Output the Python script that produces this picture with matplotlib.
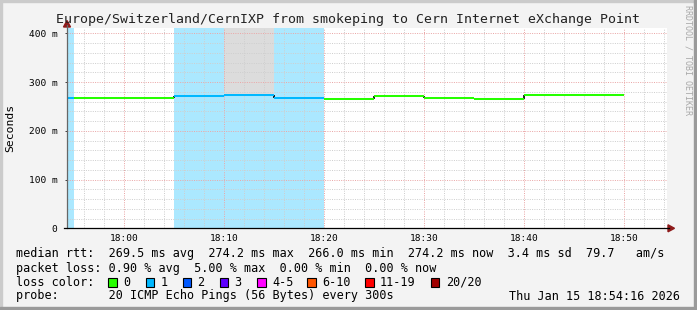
import matplotlib
matplotlib.use('Agg')
import matplotlib.pyplot as plt
from matplotlib.patches import Rectangle, Polygon
from matplotlib.lines import Line2D
from matplotlib.colors import to_rgb

W, H = 697, 310
MONO = 'DejaVu Sans Mono'

# 5 minute bins, start time in minutes relative to 18:00
bin_start = [-10, -5, 0, 5, 10, 15, 20, 25, 30, 35, 40, 45]
median_rtt = [268.0, 266.5, 266.5, 272.0, 274.0, 268.0, 266.0, 272.0, 268.0, 266.0, 274.2, 274.2]
lost_pings = [1, 0, 0, 1, 1, 1, 0, 0, 0, 0, 0, 0]
smoke_top = [268.0, 266.5, 266.5, 272.0, 450.0, 268.0, 266.0, 272.0, 268.0, 266.0, 274.2, 274.2]

# graph window 17:54:16 .. 18:54:16
t_start = -5 - 44 / 60
t_end = 54 + 16 / 60

xtick_pos = [0, 10, 20, 30, 40, 50]
xtick_lab = ['18:00', '18:10', '18:20', '18:30', '18:40', '18:50']
ytick_pos = [0, 100, 200, 300, 400]
ytick_lab = ['0', '100 m', '200 m', '300 m', '400 m']

loss_labels = ['0', '1', '2', '3', '4-5', '6-10', '11-19', '20/20']
loss_colors = ['#26ff00', '#00b8ff', '#0059ff', '#5e00ff', '#ff00ff', '#ff5500', '#ff0000', '#a10000']
loss_limits = [0, 1, 2, 3, 5, 10, 19, 20]

title = 'Europe/Switzerland/CernIXP from smokeping to Cern Internet eXchange Point'
legend_lines = [
    'median rtt:  269.5 ms avg  274.2 ms max  266.0 ms min  274.2 ms now  3.4 ms sd  79.7   am/s',
    'packet loss: 0.90 % avg  5.00 % max  0.00 % min  0.00 % now',
    'loss color:',
    'probe:       20 ICMP Echo Pings (56 Bytes) every 300s',
]
stamp = 'Thu Jan 15 18:54:16 2026'


def fx(px):
    return px / W


def fy(py):
    return 1 - py / H


def loss_idx(n):
    for i, lim in enumerate(loss_limits):
        if n <= lim:
            return i
    return len(loss_limits) - 1


def lighten(c, a=0.33):
    r, g, b = to_rgb(c)
    return (1 - a + a * r, 1 - a + a * g, 1 - a + a * b)


fig = plt.figure(figsize=(W / 100, H / 100), dpi=100, facecolor='#f3f3f3')

# 3d-ish frame
fig.patches.append(Rectangle((0, fy(2)), 1, 2 / H, transform=fig.transFigure, color='#cbcbcb'))
fig.patches.append(Rectangle((0, 0), 2 / W, 1, transform=fig.transFigure, color='#cbcbcb'))
fig.patches.append(Rectangle((fx(694), 0), 3 / W, 1, transform=fig.transFigure, color='#9a9a9a'))
fig.patches.append(Rectangle((0, 0), 1, 3 / H, transform=fig.transFigure, color='#9a9a9a'))

ax = fig.add_axes([fx(67), fy(228.3), 600 / W, 200 / H])
ax.set_facecolor('white')
ax.set_xlim(t_start, t_end)
ax.set_ylim(0, 410.26)
for s in ax.spines.values():
    s.set_visible(False)

# loss background + smoke
for i, b0 in enumerate(bin_start):
    x0, x1 = max(b0, t_start), min(b0 + 5, t_end)
    if x1 <= x0:
        continue
    if lost_pings[i] > 0:
        ax.axvspan(x0, x1, color=lighten(loss_colors[loss_idx(lost_pings[i])]), lw=0, zorder=1)
    if smoke_top[i] > median_rtt[i]:
        ax.fill_between([x0, x1], [median_rtt[i]] * 2, [smoke_top[i]] * 2, color='#dcdcdc', lw=0, zorder=2)

# grid
dot = (0, (1, 1.3))
for m in range(-4, 55, 2):
    major = m % 10 == 0
    ax.axvline(m, color='#eaa8a8' if major else '#cfcfcf', lw=0.72, ls=dot, zorder=3)
for v in range(20, 411, 20):
    major = v % 100 == 0
    ax.axhline(v, color='#eaa8a8' if major else '#cfcfcf', lw=0.72, ls=dot, zorder=3)

# median line coloured by loss
prev = None
for i, b0 in enumerate(bin_start):
    x0, x1 = max(b0, t_start), min(b0 + 5, t_end)
    if x1 <= x0:
        continue
    if prev is not None and prev != median_rtt[i]:
        ax.plot([x0, x0], [prev, median_rtt[i]], color='black', lw=1.2, zorder=4,
                solid_capstyle='butt')
    ax.plot([x0, x1], [median_rtt[i]] * 2, color=loss_colors[loss_idx(lost_pings[i])],
            lw=1.45, zorder=5, solid_capstyle='butt')
    prev = median_rtt[i]

ax.set_xticks(xtick_pos)
ax.set_xticklabels(xtick_lab, family=MONO, fontsize=6.8)
ax.set_yticks(ytick_pos)
ax.set_yticklabels(ytick_lab, family=MONO, fontsize=6.8)
ax.tick_params(axis='x', length=0, pad=4)
ax.tick_params(axis='y', length=1.5, width=0.72, pad=5.5, color='#444444')

# axes with arrows
fig.add_artist(Line2D([fx(67), fx(67)], [fy(228.3), fy(25)], color='#666666', lw=0.9))
fig.add_artist(Line2D([fx(64), fx(669)], [fy(228.3), fy(228.3)], color='black', lw=0.9))
fig.patches.append(Polygon([(fx(63.5), fy(27)), (fx(70.5), fy(27)), (fx(67), fy(20.5))],
                           closed=True, transform=fig.transFigure, color='#8e1a1a'))
fig.patches.append(Polygon([(fx(668), fy(224.8)), (fx(668), fy(231.8)), (fx(674.5), fy(228.3))],
                           closed=True, transform=fig.transFigure, color='#8e1a1a'))

fig.text(fx(348), fy(19), title, family=MONO, fontsize=9.5, ha='center', va='center', color='#222222')
fig.text(fx(10), fy(128), 'Seconds', family=MONO, fontsize=8.2, rotation=90, ha='center', va='center')
fig.text(fx(688), fy(60), 'RRDTOOL / TOBI OETIKER', family=MONO, fontsize=6, rotation=270,
         ha='center', va='center', color='#a8a8a8')

line_y = [254, 268.3, 282, 296]
for s, y in zip(legend_lines, line_y):
    fig.text(fx(16), fy(y), s, family=MONO, fontsize=8.45, ha='left', va='center', color='black')
fig.text(fx(680), fy(296), stamp, family=MONO, fontsize=8.45, ha='right', va='center', color='black')

box_x = [108, 145.7, 182.7, 220, 257, 307, 365, 430.7]
lab_x = [123, 160.7, 197, 234.3, 272.7, 322, 380, 445.7]
for lab, col, bx, lx in zip(loss_labels, loss_colors, box_x, lab_x):
    fig.patches.append(Rectangle((fx(bx), fy(286.5)), 8.5 / W, 8.5 / H, transform=fig.transFigure,
                                 facecolor=col, edgecolor='black', lw=0.8))
    fig.text(fx(lx), fy(282), lab, family=MONO, fontsize=8.45, ha='left', va='center')

fig.savefig('out.png', dpi=100, facecolor=fig.get_facecolor())
